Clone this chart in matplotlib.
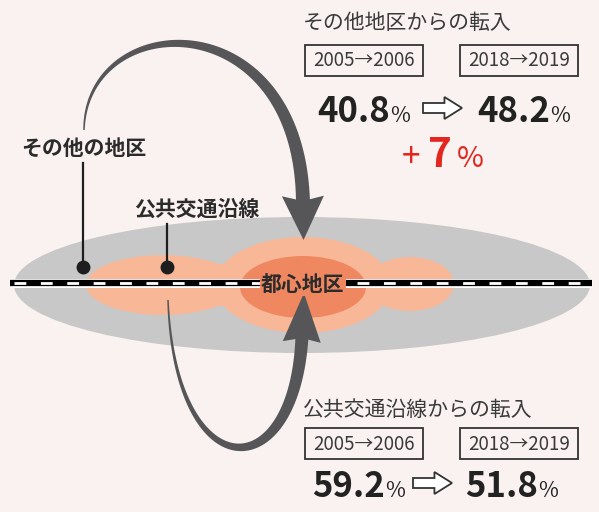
import numpy as np
import matplotlib
matplotlib.use("Agg")
import matplotlib.pyplot as plt
from matplotlib.patches import Ellipse, Polygon, Rectangle

plt.rcParams['font.family'] = ['Noto Sans CJK JP', 'DejaVu Sans']
plt.rcParams['lines.scale_dashes'] = False

# chart content
regions = ["その他の地区", "公共交通沿線"]
center_label = "都心地区"
flow_titles = ["その他地区からの転入", "公共交通沿線からの転入"]
periods = ["2005→2006", "2018→2019"]
share_before = [40.8, 59.2]
share_after = [48.2, 51.8]
change_label = "+7"

bg = '#f9f2f0'
grey = '#c8c8c9'
light_orange = '#f8b898'
dark_orange = '#ef8760'
arrow_grey = '#565658'
ink = '#2b2b2b'

fig = plt.figure(figsize=(5.99, 5.12), dpi=100)
fig.patch.set_facecolor(bg)
ax = fig.add_axes([0, 0, 1, 1])
ax.set_xlim(0, 599)
ax.set_ylim(512, 0)
ax.axis('off')

# zones
line_y = 283
ax.add_patch(Ellipse((302, line_y + 2), 576, 136, fc=grey, ec='none', zorder=1))
ax.add_patch(Ellipse((163, line_y + 2), 154, 60, fc=light_orange, ec='none', zorder=2))
ax.add_patch(Ellipse((410, line_y + 1), 88, 54, fc=light_orange, ec='none', zorder=2))
ax.add_patch(Ellipse((270, line_y + 2), 330, 44, fc=light_orange, ec='none', zorder=2))
ax.add_patch(Ellipse((303, line_y + 2), 176, 96, fc=light_orange, ec='none', zorder=2))
ax.add_patch(Ellipse((303, line_y + 4), 126, 62, fc=dark_orange, ec='none', zorder=3))

# railway
ax.plot([10, 592], [line_y, line_y], color='white', lw=6.5, solid_capstyle='butt', zorder=4)
ax.plot([10, 592], [line_y, line_y], color='black', lw=4.5, solid_capstyle='butt', zorder=4)
ax.plot([14, 592], [line_y, line_y], color='white', lw=2.0, linestyle=(0, (8.5, 10.5)),
        solid_capstyle='butt', zorder=4)


def tapered_arrow(p0, p1, p2, p3, w0, w1, head_len, head_hw, head_back):
    pts = np.array([p0, p1, p2, p3], dtype=float)
    t = np.linspace(0, 1, 120)[:, None]
    c = ((1 - t) ** 3 * pts[0] + 3 * (1 - t) ** 2 * t * pts[1]
         + 3 * (1 - t) * t ** 2 * pts[2] + t ** 3 * pts[3])
    d = (3 * (1 - t) ** 2 * (pts[1] - pts[0]) + 6 * (1 - t) * t * (pts[2] - pts[1])
         + 3 * t ** 2 * (pts[3] - pts[2]))
    d = d / np.linalg.norm(d, axis=1)[:, None]
    n = np.column_stack([-d[:, 1], d[:, 0]])
    w = (w0 + (w1 - w0) * t) / 2
    shaft = np.vstack([c + n * w, (c - n * w)[::-1]])
    ax.add_patch(Polygon(shaft, closed=True, fc=arrow_grey, ec='none', zorder=5))
    de, ne, pe = d[-1], n[-1], c[-1]
    head = [pe + de * head_len, pe + ne * head_hw - de * head_back, pe - de * 2,
            pe - ne * head_hw - de * head_back]
    ax.add_patch(Polygon(head, closed=True, fc=arrow_grey, ec='none', zorder=5))


tapered_arrow((84, 130), (86, 8), (300, 0), (303, 203), 1.5, 14, 37, 21, 7)
tapered_arrow((168, 300), (175, 490), (295, 490), (302, 336), 1.5, 13, 43, 19, 6)

# region labels with pointers
label_pos = [(84, 148), (197, 209)]
dot_pos = [(83, 267), (167, 267)]
for name, (lx, ly), (dx, dy) in zip(regions, label_pos, dot_pos):
    ax.text(lx, ly, name, ha='center', va='center', fontsize=15, fontweight='bold',
            color=ink, zorder=6)
    ax.plot([dx, dx], [ly + 15, dy], color='#1e1e1e', lw=1.6, zorder=5)
    ax.plot(dx, dy, 'o', color='#1e1e1e', markersize=9, zorder=5)

ax.text(303, line_y + 1, center_label, ha='center', va='center', fontsize=15,
        fontweight='bold', color=ink, zorder=7,
        bbox=dict(boxstyle='square,pad=0.05', fc=dark_orange, ec='none'))

renderer = fig.canvas.get_renderer()


def right_edge(txt):
    bb = txt.get_window_extent(renderer)
    return ax.transData.inverted().transform((bb.x1, bb.y0))[0]


def outline_arrow(x0, yc, length, shaft_h, head_h):
    xs = x0 + length * 0.55
    poly = [(x0, yc - shaft_h), (xs, yc - shaft_h), (xs, yc - head_h), (x0 + length, yc),
            (xs, yc + head_h), (xs, yc + shaft_h), (x0, yc + shaft_h)]
    ax.add_patch(Polygon(poly, closed=True, fc='white', ec='#333333', lw=1.3,
                         joinstyle='miter', zorder=6))


title_y = [23, 410]
box_top = [45, 428]
num_base = [122, 497]
box_x = [305, 460]
num_x = [[317, 477], [312, 465]]
arrow_x = [423, 413]
for i in range(2):
    ax.text(303, title_y[i], flow_titles[i], ha='left', va='center', fontsize=15,
            color='#3a3a3a', zorder=6)
    for j in range(2):
        ax.add_patch(Rectangle((box_x[j], box_top[i]), 118, 31, fc='none', ec='#333333',
                               lw=1.3, zorder=6))
        ax.text(box_x[j] + 59, box_top[i] + 16, periods[j], ha='center', va='center',
                fontsize=13.5, color='#3a3a3a', zorder=6)
    vals = [share_before[i], share_after[i]]
    for j in range(2):
        t = ax.text(num_x[i][j], num_base[i], f"{vals[j]:.1f}", ha='left', va='baseline',
                    fontsize=25, fontweight='bold', color='#222222', zorder=6)
        ax.text(right_edge(t) + 0.5, num_base[i], "%", ha='left', va='baseline',
                fontsize=15.5, color='#222222', zorder=6)
    outline_arrow(arrow_x[i], num_base[i] - 14, 39, 5, 11)

# change for other districts
t1 = ax.text(402, 167, change_label[0], ha='left', va='baseline', fontsize=24,
             color='#e3261f', zorder=6)
t2 = ax.text(right_edge(t1) + 8, 167, change_label[1:], ha='left', va='baseline',
             fontsize=29, fontweight='bold', color='#e3261f', zorder=6)
ax.text(right_edge(t2) + 5, 167, "%", ha='left', va='baseline', fontsize=21,
        color='#e3261f', zorder=6)

fig.savefig('out.png', dpi=100, facecolor=bg)
